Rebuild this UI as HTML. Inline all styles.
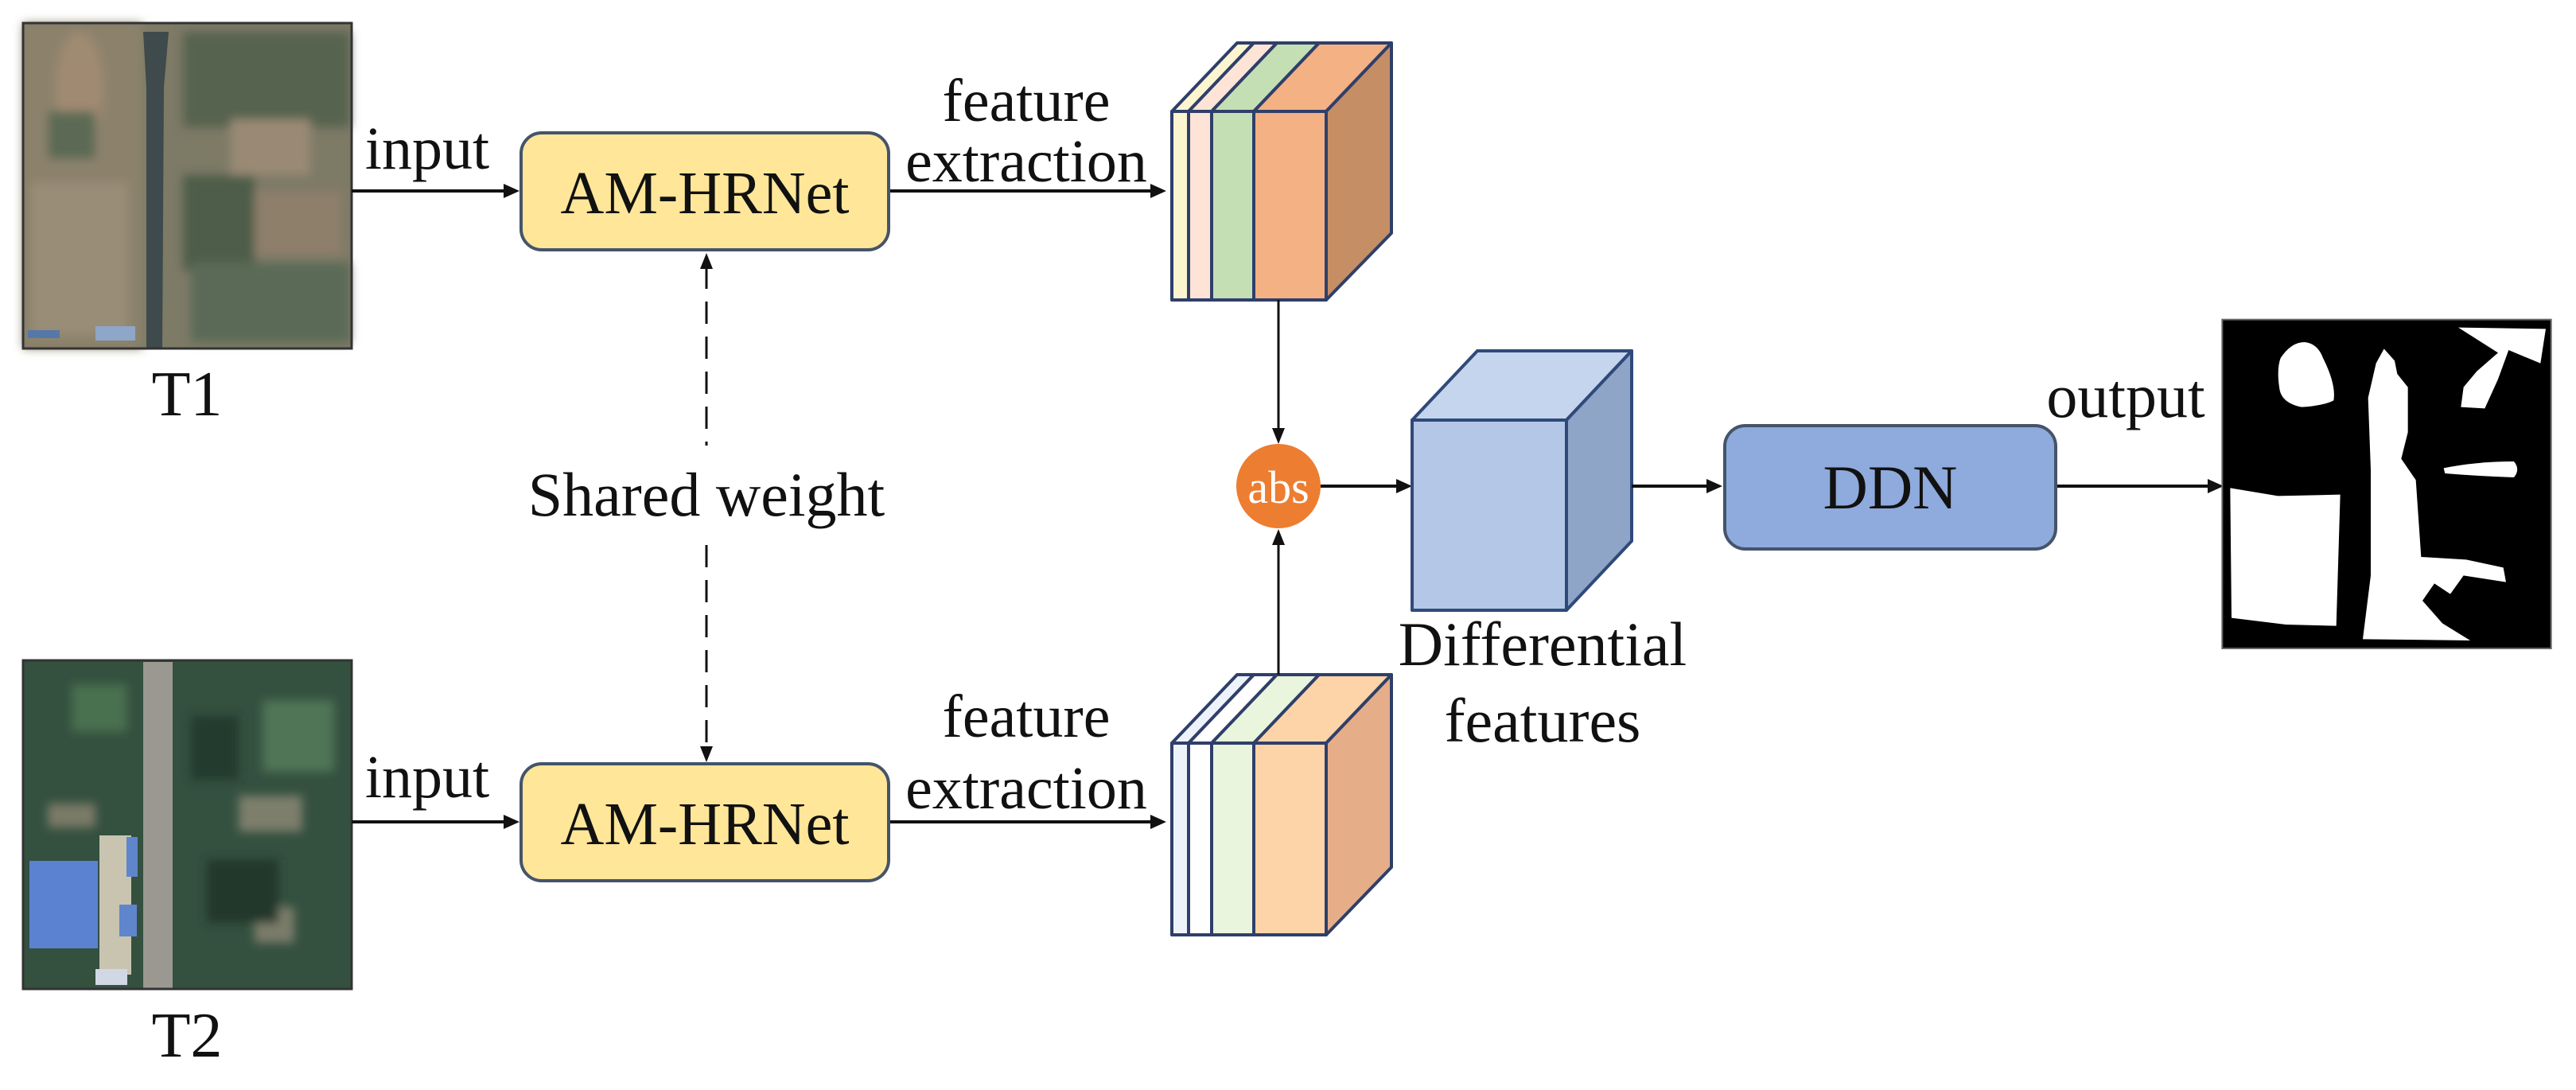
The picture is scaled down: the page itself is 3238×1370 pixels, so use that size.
<!DOCTYPE html>
<html><head><meta charset="utf-8"><style>
html,body{margin:0;padding:0;background:#fff;}
svg{display:block;}
text{font-family:"Liberation Serif",serif;fill:#111;}
</style></head><body>
<svg width="3238" height="1370" viewBox="0 0 3238 1370" xmlns="http://www.w3.org/2000/svg">
<defs>
<filter id="bl"><feGaussianBlur stdDeviation="6"/></filter>
</defs>

<!-- T1 satellite -->
<g>
<rect x="29" y="29" width="413" height="409" fill="#7d7a66"/>
<g filter="url(#bl)">
<rect x="29" y="29" width="150" height="409" fill="#8c826c"/>
<ellipse cx="100" cy="110" rx="30" ry="70" fill="#a08a72"/>
<rect x="40" y="230" width="120" height="190" fill="#9a8d78"/>
<rect x="230" y="40" width="210" height="120" fill="#56644f"/>
<rect x="290" y="150" width="100" height="70" fill="#9a8a74"/>
<rect x="230" y="220" width="90" height="120" fill="#4e5d4a"/>
<rect x="320" y="240" width="110" height="80" fill="#8e7f6a"/>
<rect x="240" y="330" width="200" height="100" fill="#5a6a56"/>
<rect x="60" y="140" width="60" height="60" fill="#5c6a55"/>
</g>
<polygon points="180,40 212,40 206,110 204,438 184,438 184,110" fill="#3e4a4c"/>
<rect x="35" y="415" width="40" height="10" fill="#5578a8"/>
<rect x="120" y="410" width="50" height="18" fill="#8ea6c8"/>
<rect x="29" y="29" width="413" height="409" fill="none" stroke="#333" stroke-width="3"/>
</g>
<text x="235" y="522" font-size="80" text-anchor="middle">T1</text>

<!-- T2 satellite -->
<g>
<rect x="29" y="830" width="413" height="413" fill="#34503f"/>
<g filter="url(#bl)">
<rect x="90" y="860" width="70" height="60" fill="#4a7050"/>
<rect x="330" y="880" width="90" height="90" fill="#4f7556"/>
<rect x="300" y="1000" width="80" height="45" fill="#7d7f6c"/>
<rect x="320" y="1140" width="50" height="45" fill="#7b7d6a"/>
<rect x="240" y="900" width="60" height="80" fill="#243a2e"/>
<rect x="260" y="1080" width="90" height="80" fill="#22372b"/>
<rect x="60" y="1010" width="60" height="30" fill="#7a7a68"/>
</g>
<rect x="125" y="1050" width="40" height="175" fill="#c8c4b0"/>
<rect x="37" y="1082" width="86" height="110" fill="#5a82d0"/>
<rect x="159" y="1052" width="14" height="50" fill="#5f85cc"/>
<rect x="150" y="1137" width="22" height="40" fill="#5f85cc"/>
<rect x="180" y="832" width="37" height="411" fill="#9a9890"/>
<rect x="120" y="1218" width="40" height="20" fill="#d0d8e4"/>
<rect x="29" y="830" width="413" height="413" fill="none" stroke="#333" stroke-width="3"/>
</g>
<text x="235" y="1328" font-size="80" text-anchor="middle">T2</text>

<!-- arrows -->
<g stroke="#111" stroke-width="4" fill="#111">
<line x1="442" y1="240" x2="640" y2="240"/>
<polygon points="653,240 633,231 633,249" stroke="none"/>
<line x1="442" y1="1033" x2="640" y2="1033"/>
<polygon points="653,1033 633,1024 633,1042" stroke="none"/>
<line x1="1117" y1="240" x2="1453" y2="240"/>
<polygon points="1466,240 1446,231 1446,249" stroke="none"/>
<line x1="1117" y1="1033" x2="1453" y2="1033"/>
<polygon points="1466,1033 1446,1024 1446,1042" stroke="none"/>
</g>
<text x="537" y="212" font-size="76" text-anchor="middle">input</text>
<text x="537" y="1002" font-size="76" text-anchor="middle">input</text>
<text x="1290" y="152" font-size="76" text-anchor="middle">feature</text>
<text x="1290" y="228" font-size="76" text-anchor="middle">extraction</text>
<text x="1290" y="926" font-size="76" text-anchor="middle">feature</text>
<text x="1290" y="1016" font-size="76" text-anchor="middle">extraction</text>

<!-- AM-HRNet boxes -->
<rect x="655" y="167" width="462" height="147" rx="26" fill="#ffe699" stroke="#44546a" stroke-width="4"/>
<text x="886" y="268" font-size="76" text-anchor="middle">AM-HRNet</text>
<rect x="655" y="960" width="462" height="147" rx="26" fill="#ffe699" stroke="#44546a" stroke-width="4"/>
<text x="886" y="1061" font-size="76" text-anchor="middle">AM-HRNet</text>

<!-- shared weight dashed -->
<g stroke="#111" stroke-width="3" fill="#111">
<line x1="888" y1="335" x2="888" y2="560" stroke-dasharray="28,16"/>
<polygon points="888,318 880,338 896,338" stroke="none"/>
<line x1="888" y1="685" x2="888" y2="940" stroke-dasharray="28,16"/>
<polygon points="888,958 880,938 896,938" stroke="none"/>
</g>
<text x="888" y="648" font-size="78" text-anchor="middle">Shared weight</text>

<!-- top feature cube -->
<g stroke="#2f3f6a" stroke-width="4" stroke-linejoin="round">
<polygon points="1473,140 1555,54 1576,54 1494,140" fill="#fdf5d0"/>
<polygon points="1494,140 1576,54 1605,54 1523,140" fill="#fde4d6"/>
<polygon points="1523,140 1605,54 1658,54 1576,140" fill="#c5dfb4"/>
<polygon points="1576,140 1658,54 1749,54 1667,140" fill="#f4b183"/>
<polygon points="1667,140 1749,54 1749,293 1667,377" fill="#c58e65"/>
<rect x="1473" y="140" width="21" height="237" fill="#fdf5d0"/>
<rect x="1494" y="140" width="29" height="237" fill="#fde4d6"/>
<rect x="1523" y="140" width="53" height="237" fill="#c5dfb4"/>
<rect x="1576" y="140" width="91" height="237" fill="#f4b183"/>
</g>

<!-- bottom feature cube -->
<g stroke="#2f3f6a" stroke-width="4" stroke-linejoin="round">
<polygon points="1473,934 1555,848 1576,848 1494,934" fill="#eef3fb"/>
<polygon points="1494,934 1576,848 1605,848 1523,934" fill="#ffffff"/>
<polygon points="1523,934 1605,848 1658,848 1576,934" fill="#e9f5dc"/>
<polygon points="1576,934 1658,848 1749,848 1667,934" fill="#fdd4a8"/>
<polygon points="1667,934 1749,848 1749,1090 1667,1175" fill="#e6ae88"/>
<rect x="1473" y="934" width="21" height="241" fill="#eef3fb"/>
<rect x="1494" y="934" width="29" height="241" fill="#ffffff"/>
<rect x="1523" y="934" width="53" height="241" fill="#e9f5dc"/>
<rect x="1576" y="934" width="91" height="241" fill="#fdd4a8"/>
</g>

<!-- arrows to abs -->
<g stroke="#111" stroke-width="3" fill="#111">
<line x1="1607" y1="377" x2="1607" y2="543"/>
<polygon points="1607,558 1599,538 1615,538" stroke="none"/>
<line x1="1607" y1="848" x2="1607" y2="680"/>
<polygon points="1607,665 1599,685 1615,685" stroke="none"/>
<line x1="1660" y1="611" x2="1760" y2="611" stroke-width="4"/>
<polygon points="1775,611 1755,602 1755,620" stroke="none"/>
</g>
<ellipse cx="1607" cy="611" rx="53" ry="53" fill="#ed7d31"/>
<text x="1607" y="632" font-size="58" text-anchor="middle" style="fill:#fff">abs</text>

<!-- differential cube -->
<g stroke="#2f4a7a" stroke-width="4" stroke-linejoin="round">
<polygon points="1775,528 1857,441 2051,441 1969,528" fill="#c5d5ee"/>
<polygon points="1969,528 2051,441 2051,680 1969,767" fill="#8fa5c8"/>
<rect x="1775" y="528" width="194" height="239" fill="#b4c7e7"/>
</g>
<text x="1939" y="836" font-size="78" text-anchor="middle">Differential</text>
<text x="1939" y="932" font-size="78" text-anchor="middle">features</text>

<g stroke="#111" stroke-width="4" fill="#111">
<line x1="2051" y1="611" x2="2150" y2="611"/>
<polygon points="2165,611 2145,602 2145,620" stroke="none"/>
<line x1="2584" y1="611" x2="2780" y2="611"/>
<polygon points="2795,611 2775,602 2775,620" stroke="none"/>
</g>

<rect x="2168" y="535" width="416" height="155" rx="26" fill="#8faadc" stroke="#44546a" stroke-width="4"/>
<text x="2376" y="639" font-size="78" text-anchor="middle">DDN</text>
<text x="2672" y="524" font-size="78" text-anchor="middle">output</text>

<!-- output mask -->
<svg x="2780" y="390" width="440" height="440" viewBox="0 0 1320 1320">
<rect x="40" y="35" width="1240" height="1240" fill="#000" stroke="#666" stroke-width="6"/>
<g fill="#fff">
<path d="M260,180 Q300,120 350,120 Q400,125 420,180 Q470,280 460,340 Q420,360 340,365 Q260,350 255,290 Q245,220 260,180Z"/>
<polygon points="650,145 690,190 700,240 740,290 740,460 715,560 770,640 790,930 960,940 1100,970 1110,1025 950,1000 900,1070 840,1030 795,1095 870,1180 975,1245 570,1240 600,1000 600,600 590,330 620,200"/>
<polygon points="70,670 250,700 485,695 470,1190 280,1185 75,1160"/>
<polygon points="930,65 1260,70 1240,200 1120,150 1080,260 1030,370 940,365 950,290 1000,230 1080,160"/>
<path d="M875,595 Q1000,570 1140,570 Q1165,600 1140,630 Q1000,625 880,615 Z"/>
</g>
</svg>
</svg>
</body></html>
